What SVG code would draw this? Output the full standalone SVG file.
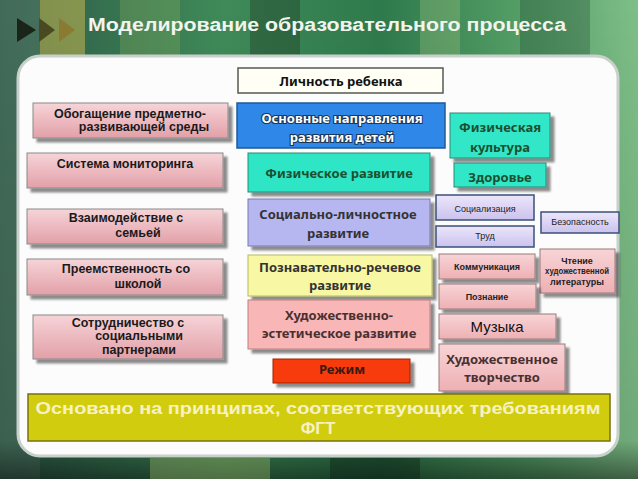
<svg xmlns="http://www.w3.org/2000/svg" width="638" height="479" viewBox="0 0 638 479">
<defs>
<linearGradient id="bg" x1="0" y1="0" x2="1" y2="0">
<stop offset="0" stop-color="#2d5a48"/>
<stop offset="0.35" stop-color="#3f8a58"/>
<stop offset="0.6" stop-color="#2f7a4c"/>
<stop offset="0.85" stop-color="#5aa46a"/>
<stop offset="1" stop-color="#7fbe88"/>
</linearGradient>
<linearGradient id="bgv" x1="0" y1="0" x2="0" y2="1">
<stop offset="0" stop-color="#000" stop-opacity="0"/>
<stop offset="0.92" stop-color="#000" stop-opacity="0.1"/>
<stop offset="1" stop-color="#000" stop-opacity="0.5"/>
</linearGradient>
<linearGradient id="pinkL" x1="0" y1="0" x2="0" y2="1">
<stop offset="0" stop-color="#f6d4d8"/>
<stop offset="1" stop-color="#e2a0a8"/>
</linearGradient>
<linearGradient id="pinkR" x1="0" y1="0" x2="0" y2="1">
<stop offset="0" stop-color="#f8d4d6"/>
<stop offset="1" stop-color="#eeb0b4"/>
</linearGradient>
<linearGradient id="lav" x1="0" y1="0" x2="0" y2="1">
<stop offset="0" stop-color="#ece6fa"/>
<stop offset="1" stop-color="#cbc2ee"/>
</linearGradient>
<filter id="sh" x="-10%" y="-10%" width="130%" height="140%">
<feGaussianBlur in="SourceAlpha" stdDeviation="1.2"/>
<feOffset dx="4" dy="4" result="b"/>
<feComponentTransfer><feFuncA type="linear" slope="0.45"/></feComponentTransfer>
<feMerge><feMergeNode/><feMergeNode in="SourceGraphic"/></feMerge>
</filter>
</defs>
<style>
.lt{font-family:"Liberation Sans",Arial,sans-serif;font-weight:bold;font-size:12.5px;fill:#1a1a1a;text-anchor:middle}
.ct{font-family:"Noto Sans","Open Sans",sans-serif;font-weight:bold;font-size:13px;text-anchor:middle}
.sm{font-family:"Liberation Sans Narrow","Liberation Sans",sans-serif;font-size:9px;fill:#222;text-anchor:middle}
.pl{fill:url(#pinkL);stroke:#8a8a8a;stroke-width:1}
.pr{fill:url(#pinkR);stroke:#9a7a7a;stroke-width:1}
.lv{fill:url(#lav);stroke:#3a5078;stroke-width:1.5}
.bt{font-family:"Liberation Sans",Arial,sans-serif;font-weight:bold;font-size:17px;fill:#f6f2c4;text-anchor:middle}
</style>
<!-- background -->
<rect width="638" height="479" fill="url(#bg)"/>
<rect x="0" y="0" width="40" height="479" fill="#6a8a7a" opacity="0.35"/>
<rect x="40" y="0" width="45" height="60" fill="#c8b850" opacity="0.55"/>
<rect x="120" y="0" width="60" height="60" fill="#8ab060" opacity="0.3"/>
<rect x="250" y="0" width="50" height="60" fill="#1a3020" opacity="0.35"/>
<rect x="420" y="0" width="40" height="60" fill="#c0d890" opacity="0.25"/>
<rect x="520" y="0" width="70" height="60" fill="#1a4030" opacity="0.3"/>
<rect width="638" height="479" fill="url(#bgv)"/>
<rect x="150" y="458" width="120" height="21" fill="#a8c070" opacity="0.35"/>
<rect x="330" y="458" width="90" height="21" fill="#0a1a10" opacity="0.35"/>
<!-- title -->
<g id="title">
<polygon points="17,18 36,30 17,42" fill="#1a2418"/>
<polygon points="39,18 55,30 39,42" fill="#4a4a22"/>
<polygon points="59,18 75,30 59,42" fill="#8a7a32"/>
<text x="88" y="31" font-family="Liberation Sans,Arial,sans-serif" font-weight="bold" font-size="18" fill="#f2f4ee" textLength="478" lengthAdjust="spacingAndGlyphs">Моделирование образовательного процесса</text>
</g>
<!-- panel -->
<rect x="18" y="56" width="600" height="400" rx="22" fill="#fbfcfb" stroke="#c8d0cc" stroke-width="3"/>
<g id="connectors"/>
<!-- left column -->
<g id="n-obogashenie"><rect class="pl" x="33" y="103" width="195" height="35" filter="url(#sh)"/>
<text class="lt" x="130" y="118">Обогащение предметно-</text><text class="lt" x="144" y="131">развивающей среды</text></g>
<g id="n-monitoring"><rect class="pl" x="27" y="153" width="196" height="35" filter="url(#sh)"/>
<text class="lt" x="125" y="168">Система мониторинга</text></g>
<g id="n-semya"><rect class="pl" x="27" y="209" width="196" height="35" filter="url(#sh)"/>
<text class="lt" x="126" y="222">Взаимодействие с</text><text class="lt" x="138" y="237">семьей</text></g>
<g id="n-shkola"><rect class="pl" x="27" y="259" width="196" height="36" filter="url(#sh)"/>
<text class="lt" x="126" y="273">Преемственность со</text><text class="lt" x="138" y="288">школой</text></g>
<g id="n-partnery"><rect class="pl" x="33" y="315" width="190" height="44" filter="url(#sh)"/>
<text class="lt" x="128" y="327">Сотрудничество с</text><text class="lt" x="139" y="340">социальными</text><text class="lt" x="139" y="354">партнерами</text></g>
<!-- center column -->
<g id="n-lichnost"><rect x="238" y="68" width="205" height="25" fill="#fffff6" stroke="#555a50" stroke-width="1.5"/>
<text class="ct" x="341" y="86" fill="#111" font-size="12">Личность ребенка</text></g>
<g id="n-osnovnye"><rect x="237" y="103" width="208" height="45" fill="#2f88e8" stroke="#1f5a9a" stroke-width="1.5"/>
<text class="ct" x="342" y="123" fill="#fff" stroke="#1a3658" stroke-width="2.2" paint-order="stroke" font-size="13.5">Основные направления</text>
<text class="ct" x="342" y="142" fill="#fff" stroke="#1a3658" stroke-width="2.2" paint-order="stroke" font-size="13.5">развития детей</text></g>
<g id="n-fiz"><rect x="248" y="153" width="182" height="39" fill="#2ee6c6" stroke="#2a8a78" stroke-width="1" filter="url(#sh)"/>
<text class="ct" x="339" y="178" fill="#1a5030" font-size="13.5">Физическое развитие</text></g>
<g id="n-soc"><rect x="248" y="199" width="182" height="47" fill="#b6b6f0" stroke="#7a7ab0" stroke-width="1" filter="url(#sh)"/>
<text class="ct" x="338" y="219" fill="#333" font-size="13.5">Социально-личностное</text><text class="ct" x="338" y="238" fill="#333" font-size="13.5">развитие</text></g>
<g id="n-pozn"><rect x="248" y="255" width="184" height="41" fill="#f8f8a4" stroke="#b8b860" stroke-width="1" filter="url(#sh)"/>
<text class="ct" x="340" y="272" fill="#333" font-size="13.5">Познавательно-речевое</text><text class="ct" x="340" y="290" fill="#333" font-size="13.5">развитие</text></g>
<g id="n-hud"><rect x="248" y="300" width="182" height="49" fill="#f8b6b6" stroke="#c08080" stroke-width="1" filter="url(#sh)"/>
<text class="ct" x="339" y="320" fill="#4a3030" font-size="13.5">Художественно-</text><text class="ct" x="339" y="338" fill="#4a3030" font-size="13.5">эстетическое развитие</text></g>
<g id="n-rezhim"><rect x="273" y="359" width="137" height="24" fill="#f83a0c" stroke="#a02000" stroke-width="1" filter="url(#sh)"/>
<text class="ct" x="342" y="374" fill="#3a1a10" font-size="13">Режим</text></g>
<!-- right column -->
<g id="n-fizkult"><rect x="450" y="113" width="100" height="45" fill="#30e6c8" stroke="#2a8a78" stroke-width="1" filter="url(#sh)"/>
<text class="ct" x="500" y="132" fill="#1a5030" font-size="14">Физическая</text><text class="ct" x="500" y="152" fill="#1a5030" font-size="14">культура</text></g>
<g id="n-zdorovie"><rect x="454" y="163" width="92" height="24" fill="#30e6c8" stroke="#2a8a78" stroke-width="1" filter="url(#sh)"/>
<text class="ct" x="500" y="182" fill="#1a5030" font-size="14.5">Здоровье</text></g>
<g id="n-socializ"><rect class="lv" x="436" y="195" width="98" height="25"/>
<text class="sm" x="485" y="212">Социализация</text></g>
<g id="n-trud"><rect class="lv" x="436" y="226" width="98" height="21"/>
<text class="sm" x="485" y="239">Труд</text></g>
<g id="n-bezop"><rect class="lv" x="541" y="212" width="78" height="21" stroke-width="1"/>
<text class="sm" x="580" y="225" font-size="7.5">Безопасность</text></g>
<g id="n-kommun"><rect class="pr" x="439" y="254" width="96" height="25" filter="url(#sh)"/>
<text class="sm" x="487" y="270" font-weight="bold" font-size="9">Коммуникация</text></g>
<g id="n-chtenie"><rect class="pr" x="540" y="249" width="75" height="44" filter="url(#sh)"/>
<text class="sm" x="577" y="264" font-size="6.5" font-weight="bold">Чтение</text><text class="sm" x="577" y="274" font-size="6.5" font-weight="bold" textLength="64" lengthAdjust="spacingAndGlyphs">художественной</text><text class="sm" x="577" y="285" font-size="6.5" font-weight="bold">литературы</text></g>
<g id="n-poznanie"><rect class="pr" x="439" y="284" width="97" height="25" filter="url(#sh)"/>
<text class="sm" x="487" y="300" font-weight="bold" font-size="9">Познание</text></g>
<g id="n-muzyka"><rect class="pr" x="439" y="314" width="117" height="25" filter="url(#sh)"/>
<text x="497" y="332" font-family="Liberation Sans,Arial,sans-serif" font-size="15" fill="#111" text-anchor="middle">Музыка</text></g>
<g id="n-tvorch"><rect class="pr" x="439" y="344" width="126" height="47" filter="url(#sh)"/>
<text class="ct" x="502" y="364" fill="#4a3030" font-size="12.5" font-weight="normal">Художественное</text><text class="ct" x="502" y="382" fill="#4a3030" font-size="12.5" font-weight="normal">творчество</text></g>
<!-- bottom -->
<g id="n-fgt"><rect x="28" y="394" width="582" height="47" fill="#d2cc0e" stroke="#7a7010" stroke-width="1.5"/>
<text class="bt" x="318" y="414" textLength="565" lengthAdjust="spacingAndGlyphs">Основано на принципах, соответствующих требованиям</text>
<text class="bt" x="318" y="434">ФГТ</text></g>
</svg>
